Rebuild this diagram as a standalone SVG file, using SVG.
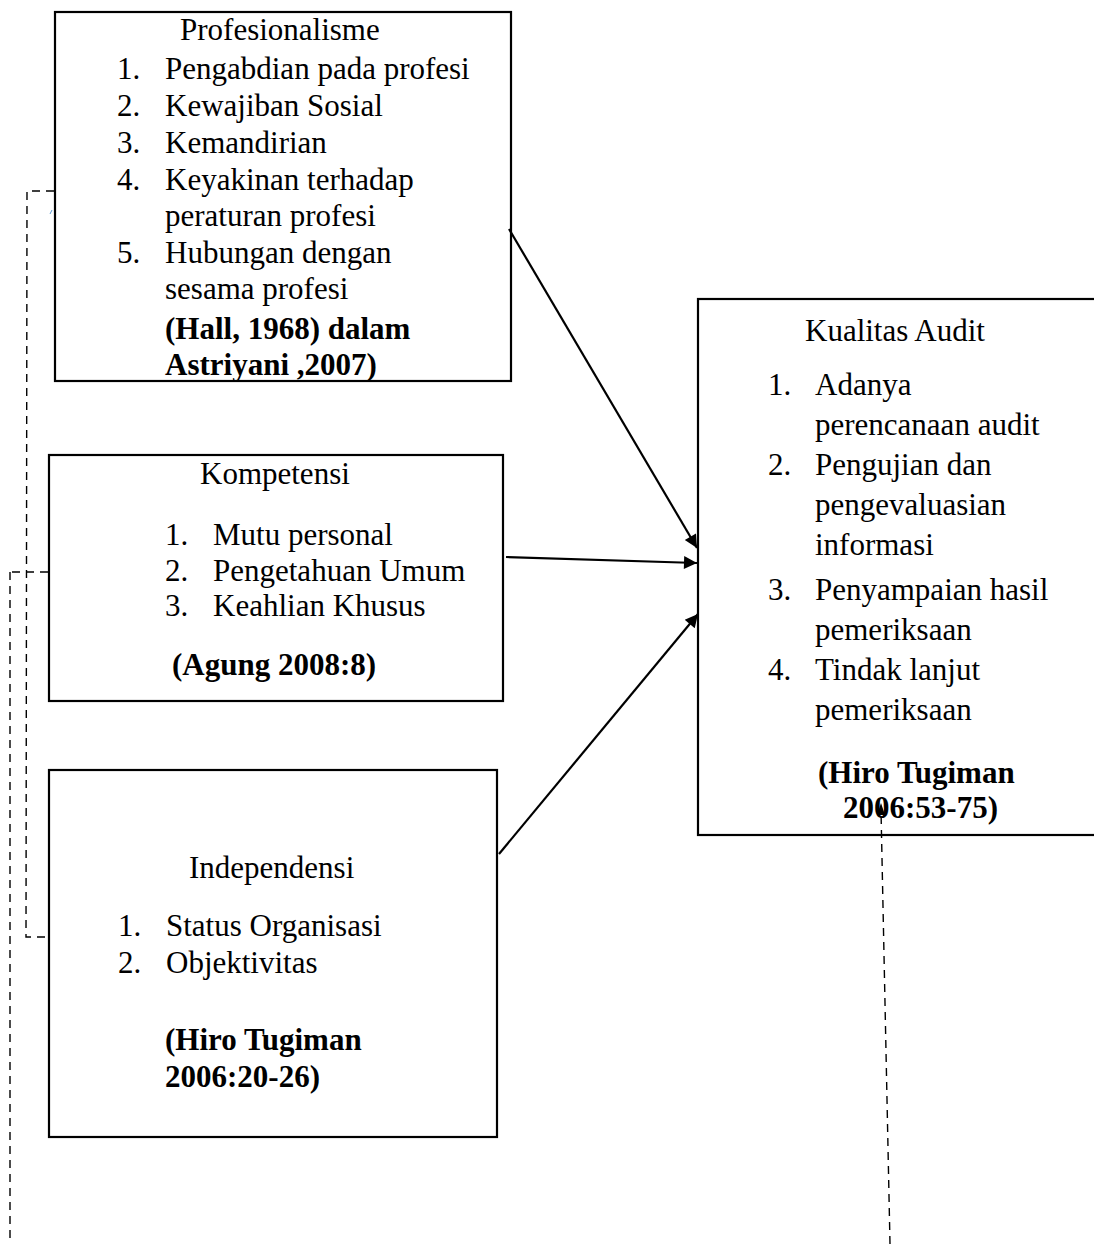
<svg xmlns="http://www.w3.org/2000/svg" width="1094" height="1244" viewBox="0 0 1094 1244">
<style>
.box{fill:#fff;stroke:#000;stroke-width:2.2}
text{font-family:"Liberation Serif","Times New Roman",serif;font-size:31px;fill:#000}
.b{font-weight:bold}
.arr{stroke:#000;stroke-width:2.2;fill:none}
.dash{stroke:#000;stroke-width:1.4;fill:none;stroke-dasharray:8 6}
</style>
<defs>
<marker id="ah2" viewBox="0 0 10 10" refX="10" refY="5" markerWidth="16" markerHeight="13" markerUnits="userSpaceOnUse" orient="auto">
<path d="M0,0 L10,5 L0,10 Z" fill="#000"/>
</marker>
</defs>
<rect width="1094" height="1244" fill="#fff"/>
<g id="profesionalisme">
<rect class="box" x="55" y="12" width="456" height="369"/>
<text x="180" y="40">Profesionalisme</text>
<text x="117" y="79">1.</text><text x="165" y="79">Pengabdian pada profesi</text>
<text x="117" y="116">2.</text><text x="165" y="116">Kewajiban Sosial</text>
<text x="117" y="153">3.</text><text x="165" y="153">Kemandirian</text>
<text x="117" y="190">4.</text><text x="165" y="190">Keyakinan terhadap</text>
<text x="165" y="226">peraturan profesi</text>
<text x="117" y="263">5.</text><text x="165" y="263">Hubungan dengan</text>
<text x="165" y="299">sesama profesi</text>
<text class="b" x="165" y="339">(Hall, 1968) dalam</text>
<text class="b" x="165" y="375">Astriyani ,2007)</text>
</g>
<g id="kompetensi">
<rect class="box" x="49" y="455" width="454" height="246"/>
<text x="200" y="484">Kompetensi</text>
<text x="165" y="545">1.</text><text x="213" y="545">Mutu personal</text>
<text x="165" y="581">2.</text><text x="213" y="581">Pengetahuan Umum</text>
<text x="165" y="616">3.</text><text x="213" y="616">Keahlian Khusus</text>
<text class="b" x="172" y="675">(Agung 2008:8)</text>
</g>
<g id="independensi">
<rect class="box" x="49" y="770" width="448" height="367"/>
<text x="189" y="878">Independensi</text>
<text x="118" y="936">1.</text><text x="166" y="936">Status Organisasi</text>
<text x="118" y="973">2.</text><text x="166" y="973">Objektivitas</text>
<text class="b" x="165" y="1050">(Hiro Tugiman</text>
<text class="b" x="165" y="1087">2006:20-26)</text>
</g>
<g id="kualitas-audit">
<rect class="box" x="698" y="299" width="420" height="536"/>
<text x="805" y="341">Kualitas Audit</text>
<text x="768" y="395">1.</text><text x="815" y="395">Adanya</text>
<text x="815" y="435">perencanaan audit</text>
<text x="768" y="475">2.</text><text x="815" y="475">Pengujian dan</text>
<text x="815" y="515">pengevaluasian</text>
<text x="815" y="555">informasi</text>
<text x="768" y="600">3.</text><text x="815" y="600">Penyampaian hasil</text>
<text x="815" y="640">pemeriksaan</text>
<text x="768" y="680">4.</text><text x="815" y="680">Tindak lanjut</text>
<text x="815" y="720">pemeriksaan</text>
<text class="b" x="818" y="783">(Hiro Tugiman</text>
<text class="b" x="843" y="818">2006:53-75)</text>
</g>
<g id="connectors">
<line class="arr" x1="509" y1="229" x2="697" y2="548" marker-end="url(#ah2)"/>
<line class="arr" x1="506" y1="557" x2="697" y2="563" marker-end="url(#ah2)"/>
<line class="arr" x1="499" y1="854" x2="698" y2="614" marker-end="url(#ah2)"/>
<polyline class="dash" points="54,191 27,191 26,937 48,937"/>
<line class="dash" x1="48" y1="572" x2="10" y2="572" stroke-dasharray="10 5 2 5"/>
<line class="dash" x1="10" y1="572" x2="10" y2="1244"/>
<line class="dash" x1="890" y1="1244" x2="881" y2="810"/>
<path d="M881,803 L877,815 L885,815 Z" fill="#000"/>
<line x1="50" y1="214" x2="52" y2="210" stroke="#5b9bd5" stroke-width="1"/>
</g>
</svg>
